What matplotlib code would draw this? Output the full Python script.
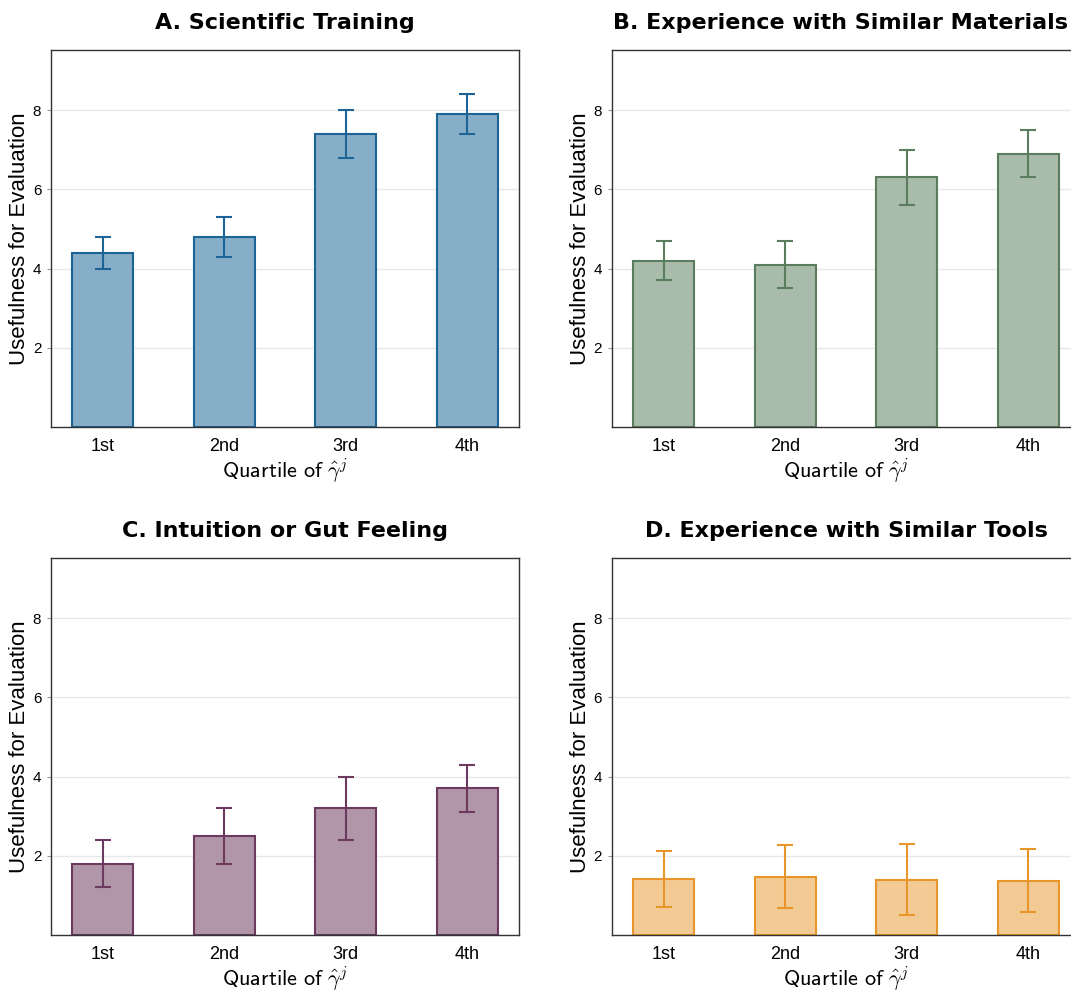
import numpy as np
import matplotlib
matplotlib.use('Agg')
import matplotlib.pyplot as plt

plt.rcParams['mathtext.fontset'] = 'cm'

# data
quartiles = ['1st', '2nd', '3rd', '4th']
titles = ['A. Scientific Training', 'B. Experience with Similar Materials',
          'C. Intuition or Gut Feeling', 'D. Experience with Similar Tools']
means_a = [4.4, 4.8, 7.4, 7.9]
errs_a = [0.4, 0.5, 0.6, 0.5]
means_b = [4.2, 4.1, 6.3, 6.9]
errs_b = [0.5, 0.6, 0.7, 0.6]
means_c = [1.8, 2.5, 3.2, 3.7]
errs_c = [0.6, 0.7, 0.8, 0.6]
means_d = [1.41, 1.47, 1.40, 1.37]
errs_d = [0.70, 0.80, 0.90, 0.80]

fills = ['#87aec8', '#a9bbaa', '#b096a8', '#f2cb94']
edges = ['#1d6496', '#5a7d5e', '#6b3a5e', '#e8962a']

fig = plt.figure(figsize=(10.71, 9.92), dpi=100)
positions = [[0.0476, 0.5696, 0.437, 0.380],
             [0.5714, 0.5696, 0.437, 0.380],
             [0.0476, 0.0575, 0.437, 0.380],
             [0.5714, 0.0575, 0.437, 0.380]]
title_x = [0.5, 0.488, 0.5, 0.5]
all_means = [means_a, means_b, means_c, means_d]
all_errs = [errs_a, errs_b, errs_c, errs_d]

x = np.arange(len(quartiles))
for i in range(4):
    ax = fig.add_axes(positions[i])
    ax.set_axisbelow(True)
    ax.yaxis.grid(True, color='#e8e8e8', linewidth=1)
    ax.bar(x, all_means[i], width=0.5, color=fills[i], edgecolor=edges[i], linewidth=1.5)
    ax.errorbar(x, all_means[i], yerr=all_errs[i], fmt='none', ecolor=edges[i],
                elinewidth=1.5, capsize=6, capthick=1.5)
    ax.set_ylim(0, 9.52)
    ax.set_yticks([2, 4, 6, 8])
    ax.set_xticks(x)
    ax.set_xticklabels(quartiles, fontsize=13, family='Liberation Sans')
    for lab in ax.get_yticklabels():
        lab.set_fontsize(11)
        lab.set_family('Liberation Sans')
    ax.tick_params(axis='x', length=0, pad=8)
    ax.tick_params(axis='y', length=3, width=0.8, color='#999999', pad=4)
    for s in ax.spines.values():
        s.set_color('#333333')
        s.set_linewidth(1.0)
    ax.set_ylabel('Usefulness for Evaluation', fontsize=16, family='Liberation Sans', labelpad=2)
    ax.set_xlabel(r'$\mathsf{Quartile\ of\ }\hat{\gamma}^{j}$', fontsize=16, labelpad=1)
    ax.set_title(titles[i], fontsize=16, fontweight='bold', family='DejaVu Sans', pad=15,
                 x=title_x[i])

fig.savefig('out.png', dpi=100)
